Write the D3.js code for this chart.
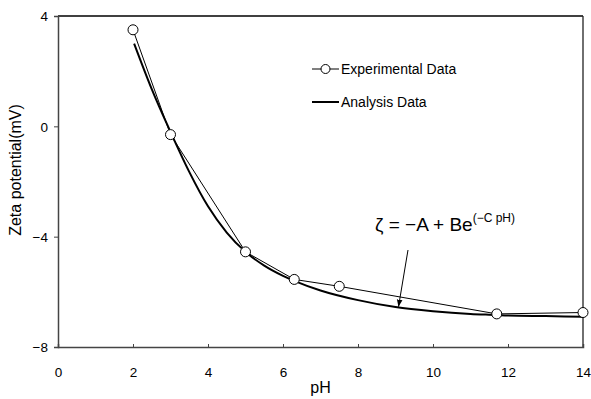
<!DOCTYPE html>
<html lang="en">
<meta charset="utf-8">
<head>
<script src="https://d3js.org/d3.v7.min.js"></script>
<style>
  body { margin: 0; background: #fff; }
  text { font-family: "Liberation Sans", Arial, sans-serif; fill: #000; }
</style>
</head>
<body>
<script>
// measured points (circles joined by straight segments)
var expPH   = [2, 3, 5, 6.3, 7.5, 11.7, 14];
var expZeta = [3.5, -0.3, -4.55, -5.55, -5.8, -6.8, -6.75];
// fitted curve
var fitPH   = [2.03, 2.5, 3, 3.5, 4, 4.5, 5, 5.5, 6, 6.3, 7, 8, 9, 10, 11, 11.7, 12, 13, 14];
var fitZeta = [3.0, 1.35, -0.2, -1.65, -2.9, -3.85, -4.55, -5.05, -5.42, -5.6, -5.95, -6.3, -6.55, -6.7, -6.8, -6.84, -6.86, -6.88, -6.9];
var xTicks = [0, 2, 4, 6, 8, 10, 12, 14];
var yTicks = [4, 0, -4, -8];

var width = 591, height = 399;
var svg = d3.select('body').append('svg').attr('width', width).attr('height', height);

var x = d3.scaleLinear().domain([0, 14]).range([58, 583]);
var y = d3.scaleLinear().domain([-8, 4]).range([347, 16]);

// frame
svg.append('line').attr('x1', x(0)).attr('x2', x(14)).attr('y1', y(4)).attr('y2', y(4))
  .attr('stroke', '#000').attr('stroke-width', 1.3);
svg.append('line').attr('x1', x(14)).attr('x2', x(14)).attr('y1', y(4)).attr('y2', y(-8))
  .attr('stroke', '#222').attr('stroke-width', 1.3);

var xAxis = svg.append('g').attr('transform', 'translate(0,' + y(-8) + ')')
  .call(d3.axisBottom(x).tickValues(xTicks).tickSize(-3).tickPadding(20).tickFormat(d3.format('d')));
var yAxis = svg.append('g').attr('transform', 'translate(' + x(0) + ',0)')
  .call(d3.axisLeft(y).tickValues(yTicks).tickSize(4).tickPadding(6)
    .tickFormat(function(d) { return d < 0 ? '\u2212' + Math.abs(d) : d; }));
[xAxis, yAxis].forEach(function(a) {
  a.select('.domain').attr('stroke', '#444').attr('stroke-width', 1.5);
  a.selectAll('.tick line').attr('stroke', '#444');
  a.selectAll('.tick text').style('font-size', '13.5px').style('font-family', '"Liberation Sans", Arial, sans-serif').attr('fill', '#000');
});
xAxis.selectAll('.tick line').filter(function(d) { return d === 0 || d === 14; }).remove();
yAxis.selectAll('.tick text').attr('dy', '0.35em');

// axis titles
svg.append('text').attr('x', x(7)).attr('y', 393).attr('text-anchor', 'middle')
  .style('font-size', '16px').text('pH');
svg.append('text').attr('transform', 'translate(21,170) rotate(-90)')
  .attr('text-anchor', 'middle').style('font-size', '16px').text('Zeta potential(mV)');

// analysis curve
var fit = fitPH.map(function(d, i) { return [d, fitZeta[i]]; });
svg.append('path').datum(fit)
  .attr('d', d3.line().x(function(d) { return x(d[0]); }).y(function(d) { return y(d[1]); }).curve(d3.curveMonotoneX))
  .attr('fill', 'none').attr('stroke', '#000').attr('stroke-width', 2);

// experimental data
var exp = expPH.map(function(d, i) { return [d, expZeta[i]]; });
svg.append('path').datum(exp)
  .attr('d', d3.line().x(function(d) { return x(d[0]); }).y(function(d) { return y(d[1]); }))
  .attr('fill', 'none').attr('stroke', '#000').attr('stroke-width', 1);
svg.selectAll('circle.exp').data(exp).join('circle').attr('class', 'exp')
  .attr('cx', function(d) { return x(d[0]); }).attr('cy', function(d) { return y(d[1]); })
  .attr('r', 5).attr('fill', '#fff').attr('stroke', '#000').attr('stroke-width', 1);

// legend
var lg = svg.append('g');
lg.append('line').attr('x1', 312).attr('x2', 339).attr('y1', 69).attr('y2', 69).attr('stroke', '#000');
lg.append('circle').attr('cx', 325.5).attr('cy', 69).attr('r', 4.5).attr('fill', '#fff').attr('stroke', '#000');
lg.append('text').attr('x', 341).attr('y', 74).style('font-size', '14px').text('Experimental Data');
lg.append('line').attr('x1', 312).attr('x2', 339).attr('y1', 102).attr('y2', 102).attr('stroke', '#000').attr('stroke-width', 2);
lg.append('text').attr('x', 341).attr('y', 107).style('font-size', '14px').text('Analysis Data');

// equation + arrow
var eq = svg.append('text').attr('x', 375).attr('y', 231).style('font-size', '19px');
eq.append('tspan').text('\u03B6 = \u2212A + Be');
eq.append('tspan').attr('dy', -9).style('font-size', '12px').text('(\u2212C pH)');
svg.append('defs').append('marker').attr('id', 'ah').attr('viewBox', '0 0 10 10')
  .attr('refX', 10).attr('refY', 5).attr('markerWidth', 7).attr('markerHeight', 7).attr('orient', 'auto')
  .append('path').attr('d', 'M0,1 L10,5 L0,9 Z').attr('fill', '#000');
svg.append('line').attr('x1', 408).attr('y1', 250).attr('x2', x(9.08)).attr('y2', y(-6.54))
  .attr('stroke', '#000').attr('stroke-width', 1).attr('marker-end', 'url(#ah)');
</script>
</body>
</html>
